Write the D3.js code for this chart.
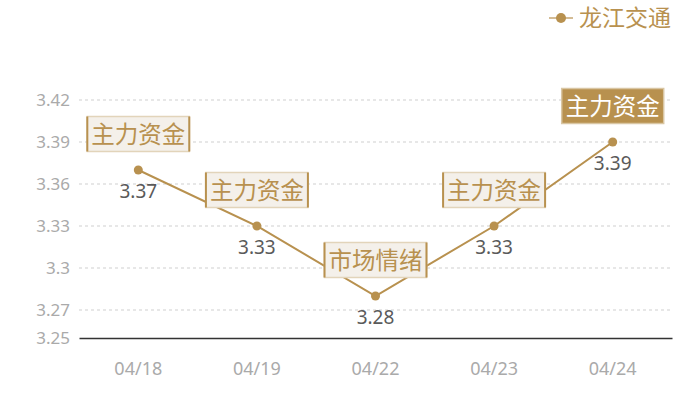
<!DOCTYPE html>
<html>
<head>
<meta charset="utf-8">
<script src="https://cdn.jsdelivr.net/npm/d3@7"></script>
<style>
  body { margin: 0; background: #fff; }
  svg text { font-family: "Noto Sans", "Noto Sans CJK SC", sans-serif; }
</style>
</head>
<body>
<svg id="chart" width="700" height="400"></svg>
<script>
const dates = ["04/18", "04/19", "04/22", "04/23", "04/24"];
const prices = [3.37, 3.33, 3.28, 3.33, 3.39];
const tags = ["主力资金", "主力资金", "市场情绪", "主力资金", "主力资金"];
const yTicks = [3.25, 3.27, 3.3, 3.33, 3.36, 3.39, 3.42];
const seriesName = "龙江交通";

const gold = "#b8914f";
const svg = d3.select("#chart");

const x = d3.scaleBand().domain(dates).range([79, 672]);
const y = d3.scaleLinear().domain([3.25, 3.42]).range([338, 100]);

// grid
svg.append("g").selectAll("line").data(yTicks.slice(1)).join("line")
  .attr("x1", 79).attr("x2", 672)
  .attr("y1", d => y(d)).attr("y2", d => y(d))
  .attr("stroke", "#cfcfcf").attr("stroke-dasharray", "3,3");

const yAxis = svg.append("g").attr("transform", "translate(79,0)")
  .call(d3.axisLeft(y).tickValues(yTicks).tickSize(0).tickPadding(9).tickFormat(d => String(d)));
yAxis.select(".domain").remove();
yAxis.selectAll("text").attr("fill", "#aaa").style("font-size", "17px");

const xAxis = svg.append("g").attr("transform", "translate(0,338)")
  .call(d3.axisBottom(x).tickSize(0).tickPadding(24));
xAxis.select(".domain").attr("stroke", "#333").attr("stroke-width", 1.5);
xAxis.selectAll("text").attr("fill", "#aaa").style("font-size", "18px");

const cx = d => x(d) + x.bandwidth() / 2;

svg.append("path").datum(prices)
  .attr("fill", "none").attr("stroke", gold).attr("stroke-width", 2)
  .attr("d", d3.line().x((d, i) => cx(dates[i])).y(d => y(d)));

svg.append("g").selectAll("circle").data(prices).join("circle")
  .attr("cx", (d, i) => cx(dates[i])).attr("cy", d => y(d)).attr("r", 4.5)
  .attr("fill", gold);

svg.append("g").selectAll("text").data(prices).join("text")
  .attr("x", (d, i) => cx(dates[i])).attr("y", d => y(d) + 28)
  .attr("text-anchor", "middle").attr("fill", "#5a5a5a").style("font-size", "19px")
  .text(d => d.toFixed(2));

// tag boxes
const tg = svg.append("g").selectAll("g").data(prices).join("g")
  .attr("transform", (d, i) => `translate(${cx(dates[i])},${y(d) - 36})`);
tg.append("rect")
  .attr("x", -51).attr("y", -17.5).attr("width", 102).attr("height", 35)
  .attr("fill", (d, i) => i === prices.length - 1 ? gold : "#f4f0ea")
  .attr("stroke", (d, i) => i === prices.length - 1 ? "#d9c6a3" : "#e2d4ba")
  .attr("stroke-width", 1.5);
tg.filter((d, i) => i < prices.length - 1).selectAll("line.side").data([-51, 51]).join("line")
  .attr("x1", d => d).attr("x2", d => d).attr("y1", -17.5).attr("y2", 17.5)
  .attr("stroke", gold).attr("stroke-width", 2);
tg.append("text")
  .attr("text-anchor", "middle").attr("y", 8.5)
  .attr("fill", (d, i) => i === prices.length - 1 ? "#fff" : gold)
  .style("font-family", "'Noto Sans CJK SC', sans-serif").style("font-size", "23.5px")
  .text((d, i) => tags[i]);

// legend
const lg = svg.append("g").attr("transform", "translate(549,18)");
lg.append("line").attr("x1", 0).attr("x2", 24).attr("stroke", gold).attr("stroke-width", 2).attr("opacity", 0.6);
lg.append("circle").attr("cx", 12).attr("r", 5).attr("fill", gold);
lg.append("text").attr("x", 30).attr("y", 8).attr("fill", gold)
  .style("font-family", "'Noto Sans CJK SC', sans-serif").style("font-size", "23px")
  .text(seriesName);
</script>
</body>
</html>
